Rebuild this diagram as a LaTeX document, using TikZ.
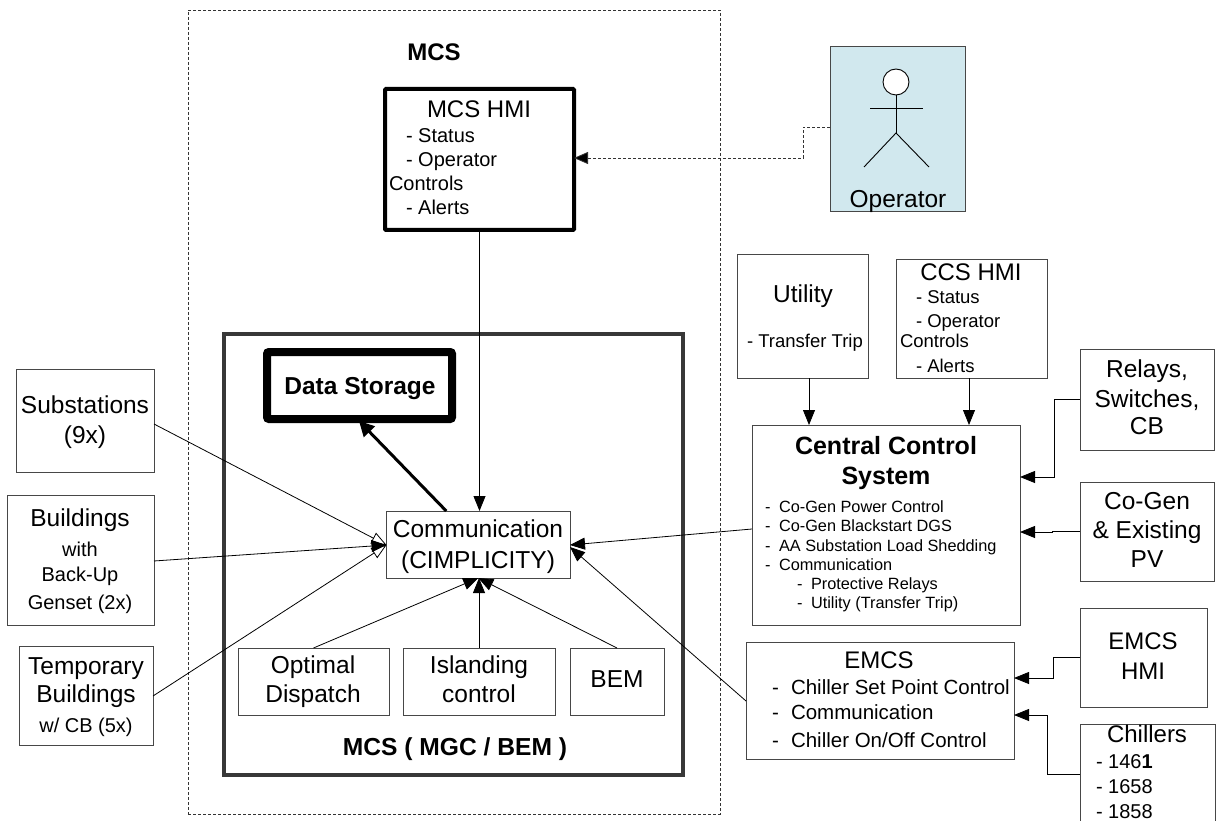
\documentclass[tikz,border=0pt]{standalone}
\usepackage{fontspec}
\setmainfont{Liberation Sans}
\usetikzlibrary{arrows.meta,calc}
\newcounter{tn}
\newcommand{\bx}[6][plainbox]{%
  \pgfmathsetmacro{\bw}{#5-#3}\pgfmathsetmacro{\bh}{#6-#4}%
  \node[#1,minimum width=\bw pt,minimum height=\bh pt] (#2) at ({(#3+#5)/2},{(#4+#6)/2}) {};}
\newcommand{\tx}[5]{%
  \stepcounter{tn}\node[anchor=#3,inner sep=0pt,outer sep=0pt] (t\thetn) at (#1,#2) {\fontsize{#4}{#4}\selectfont #5};}
\tikzset{
  plainbox/.style={draw=black!72,line width=0.9pt,fill=white,inner sep=0pt,outer sep=0pt},
  hmibox/.style={plainbox,draw=black,line width=4pt,rounded corners=1pt},
  storebox/.style={plainbox,draw=black,line width=8pt,rounded corners=2pt},
  groupbox/.style={draw=black!78,line width=3.6pt,inner sep=0pt,outer sep=0pt},
  outerbox/.style={draw=black!80,dashed,line width=0.8pt,dash pattern=on 3pt off 2pt,inner sep=0pt,outer sep=0pt},
  operbox/.style={plainbox,fill=opblue},
  conn/.style={draw=black,line width=0.8pt,-{Triangle[length=15pt,width=12pt]}},
  openconn/.style={draw=black,line width=0.8pt,-{Triangle[open,fill=white,length=15pt,width=12pt]}},
  dashconn/.style={draw=black!80,line width=0.8pt,dash pattern=on 3pt off 2pt,-{Triangle[length=14pt,width=12pt,fill=black]}},
  thickconn/.style={draw=black,line width=3pt,-{Triangle[length=15pt,width=15pt]}},
  stick/.style={draw=black,line width=0.9pt}
}
\definecolor{opblue}{HTML}{D1E8EE}
\begin{document}
\begin{tikzpicture}[x=1pt,y=-1pt]
\useasboundingbox (0,0) rectangle (1219,821);
\fill[white] (0,0) rectangle (1219,821);
\clip (0,0) rectangle (1219,821);
% groups
\bx[outerbox]{outer}{188}{10}{720}{814}
\bx[groupbox]{mcsgroup}{224}{334}{683}{775}
% boxes
\bx[hmibox]{hmi}{385}{89}{574}{230}
\bx[operbox]{oper}{830}{46}{965}{211}
\bx[storebox]{store}{267}{352}{452}{419}
\bx{comm}{386.5}{511}{570}{578}
\bx{optim}{238}{648}{389}{715}
\bx{island}{403}{648}{555}{715}
\bx{bem}{570}{648}{664}{715}
\bx{subst}{16}{369}{154}{472}
\bx{build}{7}{495}{154}{625}
\bx{temp}{19}{646}{153}{745}
\bx{util}{737}{254}{868}{378}
\bx{ccshmi}{896}{259}{1047}{378}
\bx{ccs}{752}{425}{1020}{625}
\bx{relays}{1080}{349}{1214}{450}
\bx{cogen}{1080}{482}{1214}{581}
\bx{emcs}{746}{642}{1014}{759}
\bx{emcshmi}{1080}{608}{1207}{707}
\bx{chill}{1080}{724}{1215}{840}
% operator figure
\node[circle,draw=black,line width=0.9pt,fill=white,minimum size=26pt,inner sep=0pt,outer sep=0pt] (head) at (896,82) {};
\coordinate (hip) at (896,133);
\coordinate (armL) at (870,108.5);
\coordinate (armR) at (923,108.5);
\coordinate (legL) at (864,167);
\coordinate (legR) at (929,167);
\draw[stick] (head.south) -- (hip);
\draw[stick] (armL) -- (armR);
\draw[stick] (legL) -- (hip) -- (legR);
% connectors
\coordinate (commL) at ($(comm.west)+(0,0.5)$);
\draw[openconn] ([yshift=-3.5pt]subst.east) -- (commL);
\draw[openconn] ([yshift=-0.5pt]temp.east) -- (commL);
\draw[conn] ([yshift=-1pt]build.east) -- (commL);
\draw[conn] (hmi.south) -- (comm.north -| hmi.south);
\draw[thickconn] ([xshift=-32pt]comm.north) -- ([xshift=-0.5pt,yshift=-2pt]store.south);
\draw[conn] (optim.north) -- (comm.south);
\draw[conn] (island.north) -- (island.north |- comm.south);
\draw[conn] (bem.north) -- (comm.south);
\draw[conn] ([yshift=-4pt]ccs.west) -- ([yshift=-0.5pt]comm.east);
\draw[conn] ([yshift=-0.5pt]emcs.west) -- ([yshift=-2.5pt]comm.east);
\draw[conn] (util.south -| 809,0) -- (ccs.north -| 809,0);
\draw[conn] (ccshmi.south -| 969,0) -- (ccs.north -| 969,0);
\draw[conn] (relays.west) -- ++(-26,0) |- ([yshift=48pt]ccs.east);
\draw[conn] ([yshift=0.5pt]cogen.west) -- ++(-28,0) -- ++(0,1) -- ([yshift=-7pt]ccs.east);
\draw[conn] (emcshmi.west) -- ++(-27,0) |- ([yshift=22.5pt]emcs.east);
\draw[conn] ([yshift=8pt]chill.west) -- ++(-33,0) |- ([yshift=-14.5pt]emcs.east);
\draw[dashconn] ([yshift=1pt]oper.west) -- ++(-27,0) |- ([yshift=1.5pt]hmi.east);
% texts
\tx{434}{61}{base}{24}{\bfseries MCS}
\tx{479}{118}{base}{24}{MCS HMI}
\tx{406}{143}{base west}{20}{- Status}
\tx{406}{167}{base west}{20}{- Operator}
\tx{389}{191}{base west}{20}{Controls}
\tx{406}{215}{base west}{20}{- Alerts}
\tx{898}{208}{base}{24.5}{Operator}
\tx{360}{394}{base}{24.5}{\bfseries Data Storage}
\tx{478}{537}{base}{24.5}{Communication}
\tx{478}{568}{base}{24.5}{(CIMPLICITY)}
\tx{313}{673}{base}{24.5}{Optimal}
\tx{313}{702}{base}{24.5}{Dispatch}
\tx{479}{673}{base}{24.5}{Islanding}
\tx{479}{702}{base}{24.5}{control}
\tx{617}{687}{base}{24.5}{BEM}
\tx{455}{755}{base}{24.6}{\bfseries MCS ( MGC / BEM )}
\tx{85}{413}{base}{24.5}{Substations}
\tx{85}{443}{base}{24.5}{(9x)}
\tx{80}{526}{base}{24.5}{Buildings}
\tx{80}{556}{base}{20}{with}
\tx{80}{581}{base}{20}{Back-Up}
\tx{80}{609}{base}{20}{Genset (2x)}
\tx{86}{674}{base}{24.5}{Temporary}
\tx{86}{702}{base}{24.5}{Buildings}
\tx{86}{732}{base}{20}{w/ CB (5x)}
\tx{803}{302}{base}{24.5}{Utility}
\tx{747}{347}{base west}{18.5}{- Transfer Trip}
\tx{971}{281}{base}{24}{CCS HMI}
\tx{916}{304}{base west}{18.5}{- Status}
\tx{916}{327}{base west}{18.5}{- Operator}
\tx{900}{348}{base west}{18.5}{Controls}
\tx{916}{372}{base west}{18.5}{- Alerts}
\tx{886}{454}{base}{25}{\bfseries Central Control}
\tx{886}{484}{base}{25}{\bfseries System}
\tx{765}{512}{base west}{16.3}{-}\tx{779}{512}{base west}{16.3}{Co-Gen Power Control}
\tx{765}{531}{base west}{16.3}{-}\tx{779}{531}{base west}{16.3}{Co-Gen Blackstart DGS}
\tx{765}{551}{base west}{16.3}{-}\tx{779}{551}{base west}{16.3}{AA Substation Load Shedding}
\tx{765}{570}{base west}{16.3}{-}\tx{779}{570}{base west}{16.3}{Communication}
\tx{797}{589}{base west}{16.3}{-}\tx{811}{589}{base west}{16.3}{Protective Relays}
\tx{797}{608}{base west}{16.3}{-}\tx{811}{608}{base west}{16.3}{Utility (Transfer Trip)}
\tx{1147}{377}{base}{24.5}{Relays,}
\tx{1147}{407}{base}{24.5}{Switches,}
\tx{1147}{434}{base}{24.5}{CB}
\tx{1147}{509}{base}{24.5}{Co-Gen}
\tx{1147}{538}{base}{24.5}{\& Existing}
\tx{1147}{567}{base}{24.5}{PV}
\tx{879}{668}{base}{24}{EMCS}
\tx{772}{694}{base west}{20.5}{-}\tx{791}{694}{base west}{20.5}{Chiller Set Point Control}
\tx{772}{719}{base west}{20.5}{-}\tx{791}{719}{base west}{20.5}{Communication}
\tx{772}{747}{base west}{20.5}{-}\tx{791}{747}{base west}{20.5}{Chiller On/Off Control}
\tx{1143}{649}{base}{24}{EMCS}
\tx{1143}{679}{base}{24}{HMI}
\tx{1147}{742}{base}{24}{Chillers}
\tx{1096}{768}{base west}{20}{- 146\textbf{1}}
\tx{1096}{793}{base west}{20}{- 1658}
\tx{1096}{818}{base west}{20}{- 1858}
\end{tikzpicture}
\end{document}
